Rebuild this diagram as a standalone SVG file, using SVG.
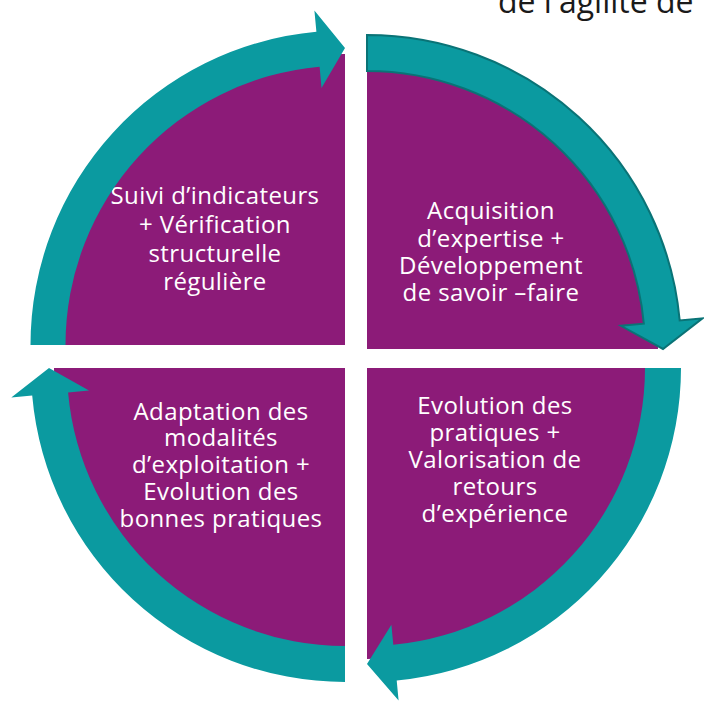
<svg xmlns="http://www.w3.org/2000/svg" width="704" height="701" viewBox="0 0 704 701">
  <style>
    .sector { fill: #8c1b78; }
    .arrow { fill: #0b9aa0; }
    .arrow-edged { fill: #0b9aa0; stroke: #0a7376; stroke-width: 2; stroke-linejoin: miter; }
    .label { font-family: "Open Sans", "Noto Sans", "DejaVu Sans", sans-serif; font-size: 24px; letter-spacing: 0.4px; fill: #ffffff; text-anchor: middle; }
    .title { font-family: "Open Sans", "Noto Sans", "DejaVu Sans", sans-serif; font-size: 32px; fill: #1a1a1a; }
  </style>

  <rect width="704" height="701" fill="#ffffff"/>

  <!-- heading, clipped by the top edge -->
  <text class="title" x="498" y="13">de l'agilité de</text>

  <!-- quarter sectors -->
  <g id="node-top-left">
    <path class="sector" d="M345,345 L54,345 A291 291 0 0 1 345,54 Z"/>
    <text class="label" x="215" y="204">Suivi d’indicateurs</text>
    <text class="label" x="215" y="233">+ Vérification</text>
    <text class="label" x="215" y="262">structurelle</text>
    <text class="label" x="215" y="290">régulière</text>
  </g>

  <g id="node-top-right">
    <path class="sector" d="M367,349 L367,58 A291 291 0 0 1 658,349 Z"/>
    <text class="label" x="491" y="219">Acquisition</text>
    <text class="label" x="491" y="247">d’expertise +</text>
    <text class="label" x="491" y="274">Développement</text>
    <text class="label" x="491" y="301">de savoir –faire</text>
  </g>

  <g id="node-bottom-right">
    <path class="sector" d="M367,368 L658,368 A291 291 0 0 1 367,659 Z"/>
    <text class="label" x="495" y="414">Evolution des</text>
    <text class="label" x="495" y="441">pratiques +</text>
    <text class="label" x="495" y="468">Valorisation de</text>
    <text class="label" x="495" y="495">retours</text>
    <text class="label" x="495" y="522">d’expérience</text>
  </g>

  <g id="node-bottom-left">
    <path class="sector" d="M345,368 L345,659 A291 291 0 0 1 54,368 Z"/>
    <text class="label" x="221" y="420">Adaptation des</text>
    <text class="label" x="221" y="446">modalités</text>
    <text class="label" x="221" y="473">d’exploitation +</text>
    <text class="label" x="221" y="500">Evolution des</text>
    <text class="label" x="221" y="527">bonnes pratiques</text>
  </g>

  <!-- circular arrows, clockwise -->
  <g id="connectors">
    <path class="arrow" d="M30.5,345 A314.5 314.5 0 0 1 316.4,31.8 L314.4,10.4 L345,48 L321.5,88.1 L319.6,66.7 A279.5 279.5 0 0 0 65.5,345 Z"/>
    <path class="arrow-edged" d="M367,35 A314 314 0 0 1 679.7,320.4 L702.6,318.3 L663,349 L620.9,325.8 L643.8,323.7 A278 278 0 0 0 367,71 Z"/>
    <path class="arrow" d="M681,368 A314 314 0 0 1 396.7,680.6 L398.6,700.5 L367,664 L391.4,624.8 L393.3,644.8 A278 278 0 0 0 645,368 Z"/>
    <path class="arrow" d="M345,682 A314 314 0 0 1 32.2,395.6 L11.3,397.4 L49,368 L89,390.6 L68.1,392.4 A278 278 0 0 0 345,646 Z"/>
  </g>
</svg>
